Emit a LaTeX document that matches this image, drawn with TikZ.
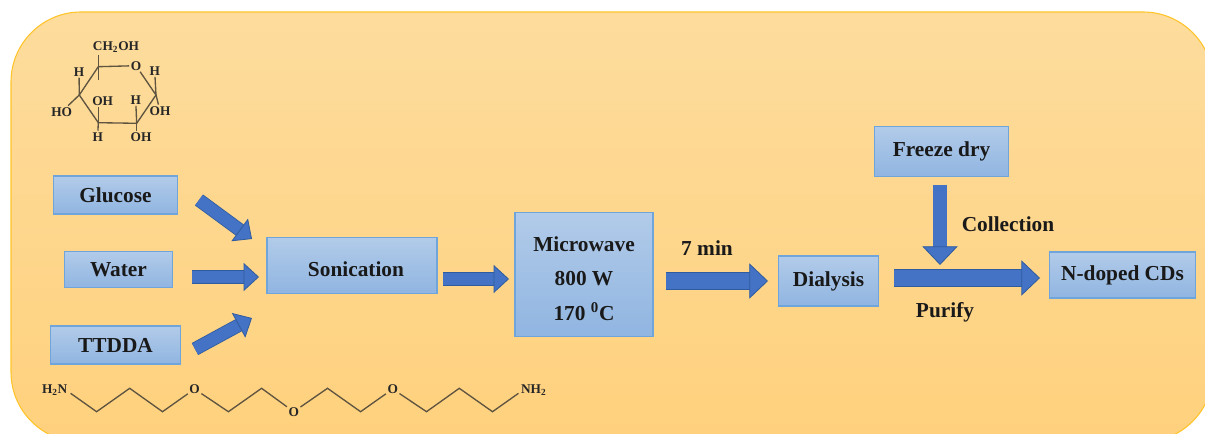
\documentclass[tikz,border=0pt]{standalone}
\usepackage{fontspec}
\setmainfont{Liberation Serif}
\usepackage{tikz}
\usetikzlibrary{arrows.meta}
\definecolor{panel top}{HTML}{FDDC9D}
\definecolor{panel bottom}{HTML}{FFD17D}
\definecolor{panel edge}{HTML}{FFC42A}
\definecolor{box top}{HTML}{B2CBE9}
\definecolor{box bottom}{HTML}{90B5E1}
\definecolor{box edge}{HTML}{6FA5DA}
\definecolor{arrow blue}{HTML}{4472C4}
\definecolor{arrow edge}{HTML}{2F5C9E}
\definecolor{bond}{HTML}{5E5440}
\tikzstyle{panel} = [
    draw=panel edge,
    line width=0.8pt,
    rounded corners=52.5pt,
    top color=panel top,
    bottom color=panel bottom
]
\tikzstyle{block} = [
    draw=box edge,
    line width=0.9pt,
    rectangle,
    top color=box top,
    bottom color=box bottom,
    inner sep=0pt,
    text=black!90,
    font=\fontsize{16}{26}\selectfont\bfseries,
    align=center
]
\tikzstyle{note} = [inner sep=0pt, text=black!90, font=\fontsize{16}{18}\selectfont\bfseries]
\tikzstyle{atom} = [inner sep=1pt, text=black!85, font=\fontsize{10}{12}\selectfont\bfseries]
\tikzstyle{bond path} = [draw=bond, line width=1pt]
\tikzstyle{small path} = [
    draw=arrow edge,
    line width=0.6pt,
    double=arrow blue,
    double distance=9pt,
    -{Triangle[length=11.5pt, width=21pt, line width=0.6pt, fill=arrow blue]}
]
\tikzstyle{large path} = [
    small path,
    double distance=11.6pt,
    -{Triangle[length=14pt, width=26.5pt, line width=0.6pt, fill=arrow blue]}
]

\begin{document}
\begin{tikzpicture}[x=0.75pt, y=-0.75pt]
    \useasboundingbox (0, 0) rectangle (1205, 434);
    \clip (0, 0) rectangle (1205, 434);

    % Background.
    \draw [panel] (11, 12) rectangle (1213, 442);

    % Boxes.
    \node (glucose) [block, minimum width=93pt, minimum height=28.5pt] at (115.5, 195) {Glucose};
    \node (water) [block, minimum width=81.5pt, minimum height=27.5pt] at (118.5, 269.5) {Water};
    \node (ttdda) [block, minimum width=98pt, minimum height=28.5pt] at (115.5, 345) {TTDDA};
    \node (sonication) [block, minimum width=127.5pt, minimum height=42.5pt] at (352, 265.5) {\hspace*{6pt}\rule{0pt}{16.5pt}Sonication};
    \node (microwave) [block, minimum width=103.5pt, minimum height=93.5pt] at (584, 274.5) {\rule{0pt}{17pt}Microwave\\800 W\\170 \textsuperscript{0}C};
    \node (dialysis) [block, minimum width=75.5pt, minimum height=37.5pt] at (828.5, 281) {Dialysis};
    \node (freeze) [block, minimum width=101pt, minimum height=38pt] at (941.5, 151.5) {Freeze dry};
    \node (cds) [block, minimum width=109pt, minimum height=34.5pt] at (1122.5, 275) {N-doped CDs};

    % Labels.
    \node (time) [note] at (707, 248) {7 min};
    \node (collection) [note] at (1008, 224) {Collection};
    \node (purify) [note] at (945, 312) {Purify};

    % Arrow ends.
    \coordinate (glucose tail) at (199, 200);
    \coordinate (glucose tip) at (252, 239);
    \coordinate (water tail) at (192, 277);
    \coordinate (water tip) at (259, 277);
    \coordinate (ttdda tail) at (195, 349);
    \coordinate (ttdda tip) at (252, 318);
    \coordinate (sonication tail) at (443, 279);
    \coordinate (sonication tip) at (509, 279);
    \coordinate (microwave tail) at (666, 281);
    \coordinate (microwave tip) at (768, 281);
    \coordinate (dialysis tail) at (894, 278);
    \coordinate (dialysis tip) at (1040, 278);
    \coordinate (freeze tail) at (940, 185);
    \coordinate (freeze tip) at (940, 265);

    % Arrows.
    \draw [small path] (glucose tail) -- (glucose tip);
    \draw [small path] (water tail) -- (water tip);
    \draw [small path] (ttdda tail) -- (ttdda tip);
    \draw [small path] (sonication tail) -- (sonication tip);
    \draw [large path] (microwave tail) -- (microwave tip);
    \draw [large path] (dialysis tail) -- (dialysis tip);
    \draw [large path, double distance=10pt] (freeze tail) -- (freeze tip);

    % Glucose ring.
    \coordinate (c1) at (156, 95);
    \coordinate (c2) at (136.7, 123.3);
    \coordinate (c3) at (98.3, 122.7);
    \coordinate (c4) at (79.3, 95);
    \coordinate (c5) at (98.3, 66.7);
    \coordinate (c5 top) at (98.3, 55);
    \coordinate (c5 low) at (98.3, 80);
    \coordinate (c3 top) at (98.3, 107);
    \coordinate (c2 low) at (136.7, 131);
    \node (ring o) [atom] at (136, 65.7) {O};
    \node (ch2oh) [atom] at (116, 47.3) {CH\textsubscript{2}OH};
    \node (h4) [atom] at (79, 71.7) {H};
    \node (h1) [atom] at (154.7, 71) {H};
    \node (oh3) [atom] at (102.7, 100.7) {OH};
    \node (h2) [atom] at (135.7, 100) {H};
    \node (ho4) [atom] at (61.7, 111.7) {HO};
    \node (oh1) [atom] at (160, 110.7) {OH};
    \node (h3) [atom] at (97.7, 136.7) {H};
    \node (oh2) [atom] at (141, 137.3) {OH};

    \draw [bond path] (c5) -- (ring o) -- (c1) -- (c2) -- (c3) -- (c4) -- (c5);
    \draw [bond path] (c5 top) -- (c5 low);
    \draw [bond path] (c4) -- (h4);
    \draw [bond path] (c4) -- (ho4);
    \draw [bond path] (c3) -- (c3 top);
    \draw [bond path] (c3) -- (h3);
    \draw [bond path] (c2) -- (h2);
    \draw [bond path] (c2) -- (c2 low);
    \draw [bond path] (c1) -- (h1);
    \draw [bond path] (c1) -- (oh1);

    % Amine chain.
    \node (left amine) [atom] at (54.7, 390) {H\textsubscript{2}N};
    \node (first o) [atom] at (194.6, 389) {O};
    \node (middle o) [atom] at (293.7, 411.7) {O};
    \node (last o) [atom] at (392.7, 389) {O};
    \node (right amine) [atom] at (533.7, 390) {NH\textsubscript{2}};
    \coordinate (left end) at (70.6, 393.3);
    \coordinate (k1) at (96.6, 411.7);
    \coordinate (k2) at (129.7, 388.3);
    \coordinate (k3) at (162.5, 411.7);
    \coordinate (k4) at (228.4, 411.7);
    \coordinate (k5) at (261.6, 388.3);
    \coordinate (k6) at (327.5, 388.3);
    \coordinate (k7) at (360.6, 411.7);
    \coordinate (k8) at (426.5, 411.7);
    \coordinate (k9) at (459.3, 388.3);
    \coordinate (k10) at (492.5, 411.7);
    \coordinate (right end) at (518.5, 393.3);

    \draw [bond path] (left end) -- (k1) -- (k2) -- (k3) -- (first o) -- (k4) -- (k5) -- (middle o)
        -- (k6) -- (k7) -- (last o) -- (k8) -- (k9) -- (k10) -- (right end);
\end{tikzpicture}
\end{document}
